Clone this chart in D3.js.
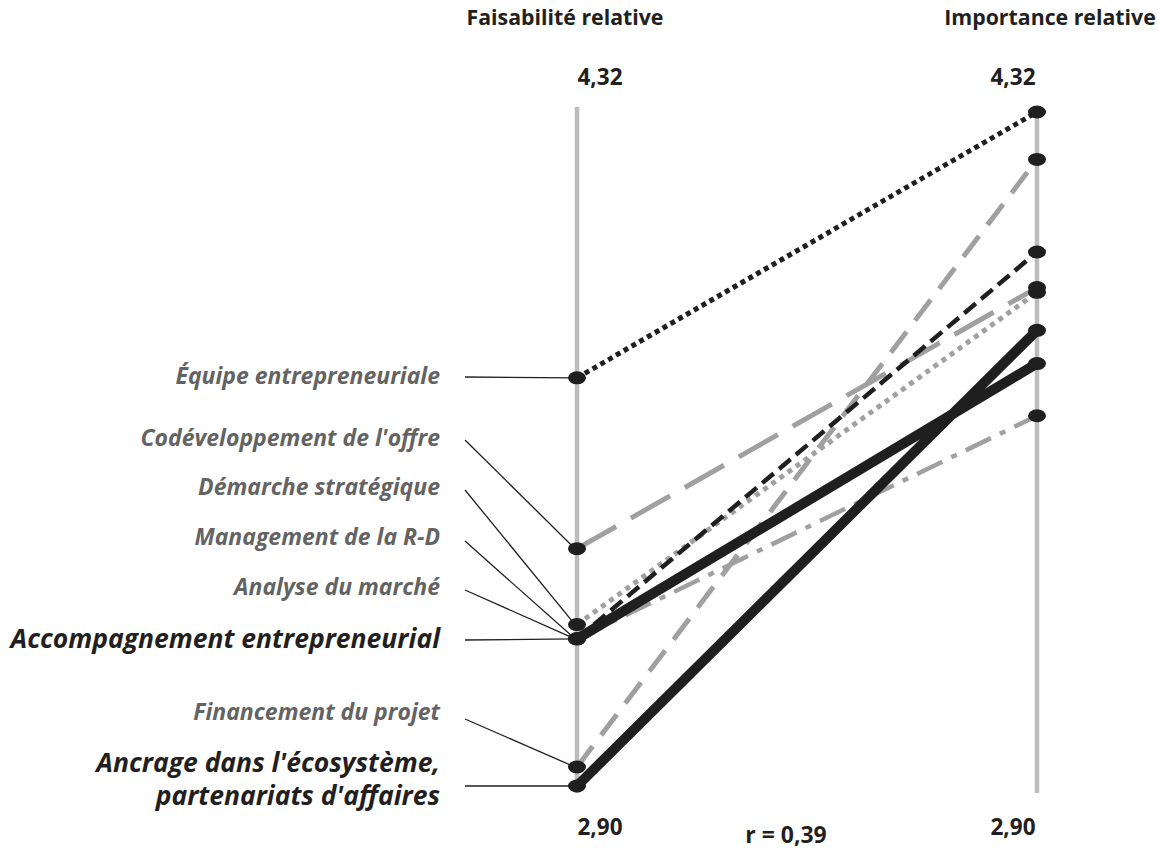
<!DOCTYPE html>
<html>
<head>
<meta charset="utf-8">
<script src="https://cdn.jsdelivr.net/npm/d3@7"></script>
<style>
  body { margin: 0; background: #fff; }
  text { font-family: "Open Sans", "Noto Sans", sans-serif; }
</style>
</head>
<body>
<script>
// criteria, in the order of the labels on the left
const criteria = [
  "Équipe entrepreneuriale",
  "Codéveloppement de l'offre",
  "Démarche stratégique",
  "Management de la R-D",
  "Analyse du marché",
  "Accompagnement entrepreneurial",
  "Financement du projet",
  "Ancrage dans l'écosystème,|partenariats d'affaires"
];
// values
const faisabilite = [3.76, 3.40, 3.24, 3.21, 3.21, 3.21, 2.94, 2.90];
const importance  = [4.32, 3.95, 3.94, 4.025, 3.68, 3.79, 4.22, 3.86];
// line style per criterion
const lineStyle = ["blackDot", "grayLong", "grayDot", "blackDash", "grayDashDot", "blackThick", "grayDash", "blackThick"];
// highlighted labels (bigger, darker)
const highlighted = [false, false, false, false, false, true, false, true];

const axisTitles = ["Faisabilité relative", "Importance relative"];
const axisExtremes = [4.32, 2.90];
const correlation = 0.39;

// label layout (baseline of label, y where the leader line starts)
const labelBaseline = [384, 446, 495, 545, 595, 648, 720, 772];
const leaderStartY = [377, 440, 490, 541, 590, 640, 719, 786];
const labelRight = 440, leaderLeft = 465;

const styles = {
  blackDot:    { stroke: "#1f1f1f", width: 5,   dash: "5,4" },
  grayLong:    { stroke: "#a0a0a0", width: 5,   dash: "45,17" },
  grayDot:     { stroke: "#a0a0a0", width: 5,   dash: "5,5" },
  blackDash:   { stroke: "#1f1f1f", width: 4.5, dash: "15,7" },
  grayDashDot: { stroke: "#a0a0a0", width: 4.5, dash: "28,10,6,10" },
  grayDash:    { stroke: "#a0a0a0", width: 5,   dash: "26,14" },
  blackThick:  { stroke: "#1f1f1f", width: 10,  dash: null }
};
// draw gray ones first, thick black on top
const drawOrder = ["grayLong", "grayDash", "grayDashDot", "grayDot", "blackDot", "blackDash", "blackThick"];

const width = 1158, height = 849;
const svg = d3.select("body").append("svg")
  .attr("width", width)
  .attr("height", height);

// two vertical axes
const xScale = d3.scalePoint()
  .domain(axisTitles)
  .range([577, 1037]);

const yScale = d3.scaleLinear()
  .domain([2.90, 4.32])
  .range([786, 112]);

const fmt = v => d3.format(".2f")(v).replace(".", ",");

// axis lines
svg.selectAll(".axis-line")
  .data(axisTitles)
  .enter().append("line")
  .attr("class", "axis-line")
  .attr("x1", d => xScale(d)).attr("x2", d => xScale(d))
  .attr("y1", yScale(axisExtremes[0]) - 5)
  .attr("y2", yScale(axisExtremes[1]) + 7)
  .attr("stroke", "#bcbcbc")
  .attr("stroke-width", 4.5);

// axis titles
const titleX = [565, 1050];
svg.selectAll(".axis-title")
  .data(axisTitles)
  .enter().append("text")
  .attr("class", "axis-title")
  .attr("x", (d, i) => titleX[i])
  .attr("y", 25)
  .attr("text-anchor", "middle")
  .attr("font-size", 21.3)
  .attr("font-weight", 700)
  .attr("fill", "#231f20")
  .text(d => d);

// extreme values above and below each axis
const extremeX = [600, 1013];
axisTitles.forEach((t, i) => {
  svg.selectAll(".ext-" + i)
    .data(axisExtremes)
    .enter().append("text")
    .attr("x", extremeX[i])
    .attr("y", (d, j) => j === 0 ? 85 : 835)
    .attr("text-anchor", "middle")
    .attr("font-size", 22.5)
    .attr("font-weight", 700)
    .attr("fill", "#231f20")
    .text(d => fmt(d));
});

// correlation
svg.append("text")
  .attr("x", 786)
  .attr("y", 843)
  .attr("text-anchor", "middle")
  .attr("font-size", 23)
  .attr("font-weight", 700)
  .attr("fill", "#231f20")
  .text("r = " + fmt(correlation));

// slope lines
const rows = criteria.map((c, i) => ({
  name: c, f: faisabilite[i], imp: importance[i], style: lineStyle[i], idx: i
}));
rows.sort((a, b) => drawOrder.indexOf(a.style) - drawOrder.indexOf(b.style));

svg.selectAll(".slope")
  .data(rows)
  .enter().append("line")
  .attr("class", "slope")
  .attr("x1", xScale(axisTitles[0]))
  .attr("y1", d => yScale(d.f))
  .attr("x2", xScale(axisTitles[1]))
  .attr("y2", d => yScale(d.imp))
  .attr("stroke", d => styles[d.style].stroke)
  .attr("stroke-width", d => styles[d.style].width)
  .attr("stroke-dasharray", d => styles[d.style].dash)
  .attr("stroke-linecap", d => d.style === "blackThick" ? "round" : "butt");

// dots on both axes
const dots = [];
criteria.forEach((c, i) => {
  dots.push({ x: xScale(axisTitles[0]), v: faisabilite[i] });
  dots.push({ x: xScale(axisTitles[1]), v: importance[i] });
});
svg.selectAll(".dot")
  .data(dots)
  .enter().append("ellipse")
  .attr("class", "dot")
  .attr("cx", d => d.x)
  .attr("cy", d => yScale(d.v))
  .attr("rx", 9)
  .attr("ry", 6.5)
  .attr("fill", "#1f1f1f");

// leader lines from labels to left dots
svg.selectAll(".leader")
  .data(criteria)
  .enter().append("line")
  .attr("class", "leader")
  .attr("x1", leaderLeft)
  .attr("y1", (d, i) => leaderStartY[i])
  .attr("x2", xScale(axisTitles[0]) - 2)
  .attr("y2", (d, i) => yScale(faisabilite[i]))
  .attr("stroke", "#1f1f1f")
  .attr("stroke-width", 1.3);

// labels
const labels = svg.selectAll(".label")
  .data(criteria)
  .enter().append("text")
  .attr("class", "label")
  .attr("x", labelRight)
  .attr("y", (d, i) => labelBaseline[i])
  .attr("text-anchor", "end")
  .attr("font-style", "italic")
  .attr("font-weight", 700)
  .attr("font-size", (d, i) => highlighted[i] ? 26.5 : 23)
  .attr("fill", (d, i) => highlighted[i] ? "#231f20" : "#636363");

labels.selectAll("tspan")
  .data(d => d.split("|"))
  .enter().append("tspan")
  .attr("x", labelRight)
  .attr("dy", (d, j) => j === 0 ? 0 : 33)
  .text(d => d);
</script>
</body>
</html>
